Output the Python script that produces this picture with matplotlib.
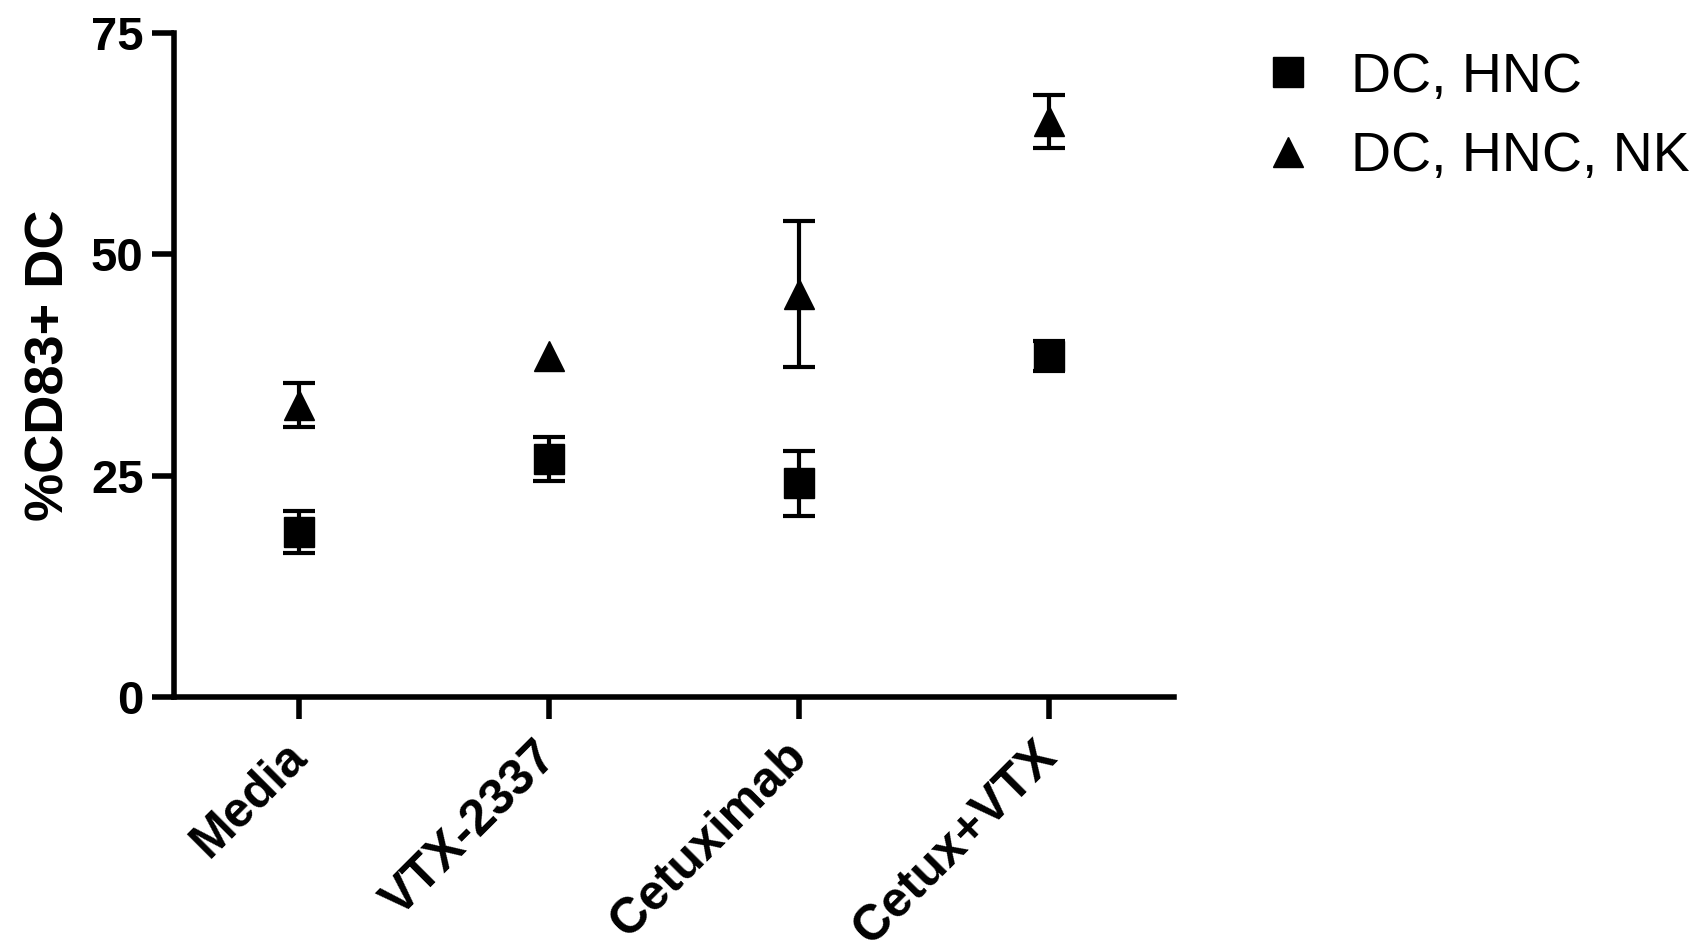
import matplotlib.pyplot as plt
import matplotlib.transforms as mtransforms
import numpy as np

# =========================
# Data
# =========================
categories = ["Media", "VTX-2337", "Cetuximab", "Cetux+VTX"]

dc_hnc = [18.6, 26.9, 24.1, 38.5]
dc_hnc_err = [2.4, 2.5, 3.7, 1.7]

dc_hnc_nk = [33.0, 38.5, 45.5, 65.0]
dc_hnc_nk_err = [2.5, 0.3, 8.2, 3.0]

y_ticks = [0, 25, 50, 75]

# =========================
# Figure
# =========================
plt.rcParams['font.family'] = ['Liberation Sans', 'DejaVu Sans']

fig = plt.figure(figsize=(17.07, 9.52), dpi=100)
ax = fig.add_axes([0.102, 0.268, 0.586, 0.6975])

x = np.arange(len(categories))

# like Prism: bars shorter than the symbol are not drawn
for vals, errs in [(dc_hnc, dc_hnc_err), (dc_hnc_nk, dc_hnc_nk_err)]:
    shown = np.array([e if e >= 1.0 else np.nan for e in errs])
    ax.errorbar(x, vals, yerr=shown, fmt='none', ecolor='black',
                elinewidth=3, capsize=11.5, capthick=3, zorder=2)

ax.plot(x, dc_hnc, 's', color='black', markersize=22, label="DC, HNC", zorder=3)
ax.plot(x, dc_hnc_nk, '^', color='black', markersize=22, label="DC, HNC, NK", zorder=3)

# =========================
# Axes styling
# =========================
ax.set_xlim(-0.5, 3.5)
ax.set_ylim(0, 75)
ax.set_yticks(y_ticks)
ax.set_xticks(x)

for side in ['top', 'right']:
    ax.spines[side].set_visible(False)
for side in ['left', 'bottom']:
    ax.spines[side].set_linewidth(4)

ax.tick_params(axis='both', direction='out', width=4, length=16, pad=6)
ax.tick_params(axis='x', pad=10)

ax.set_xticklabels(categories, rotation=45, ha='right', rotation_mode='anchor',
                   fontsize=36, fontweight='bold')
ax.set_yticklabels([str(v) for v in y_ticks], fontsize=34, fontweight='bold')

# nudge rotated labels a little to the left (after tick_params, which resets transforms)
shift = mtransforms.ScaledTranslation(-0.16, 0.0, fig.dpi_scale_trans)
for lbl in ax.get_xticklabels():
    lbl.set_transform(lbl.get_transform() + shift)

ax.set_ylabel("%CD83+ DC", fontsize=39, fontweight='bold', labelpad=12)

fig.legend(loc='upper left', bbox_to_anchor=(0.725, 0.975), frameon=False,
           fontsize=40, handlelength=0.8, handletextpad=0.75,
           labelspacing=0.5, borderpad=0)

fig.savefig("out.png", dpi=100)
